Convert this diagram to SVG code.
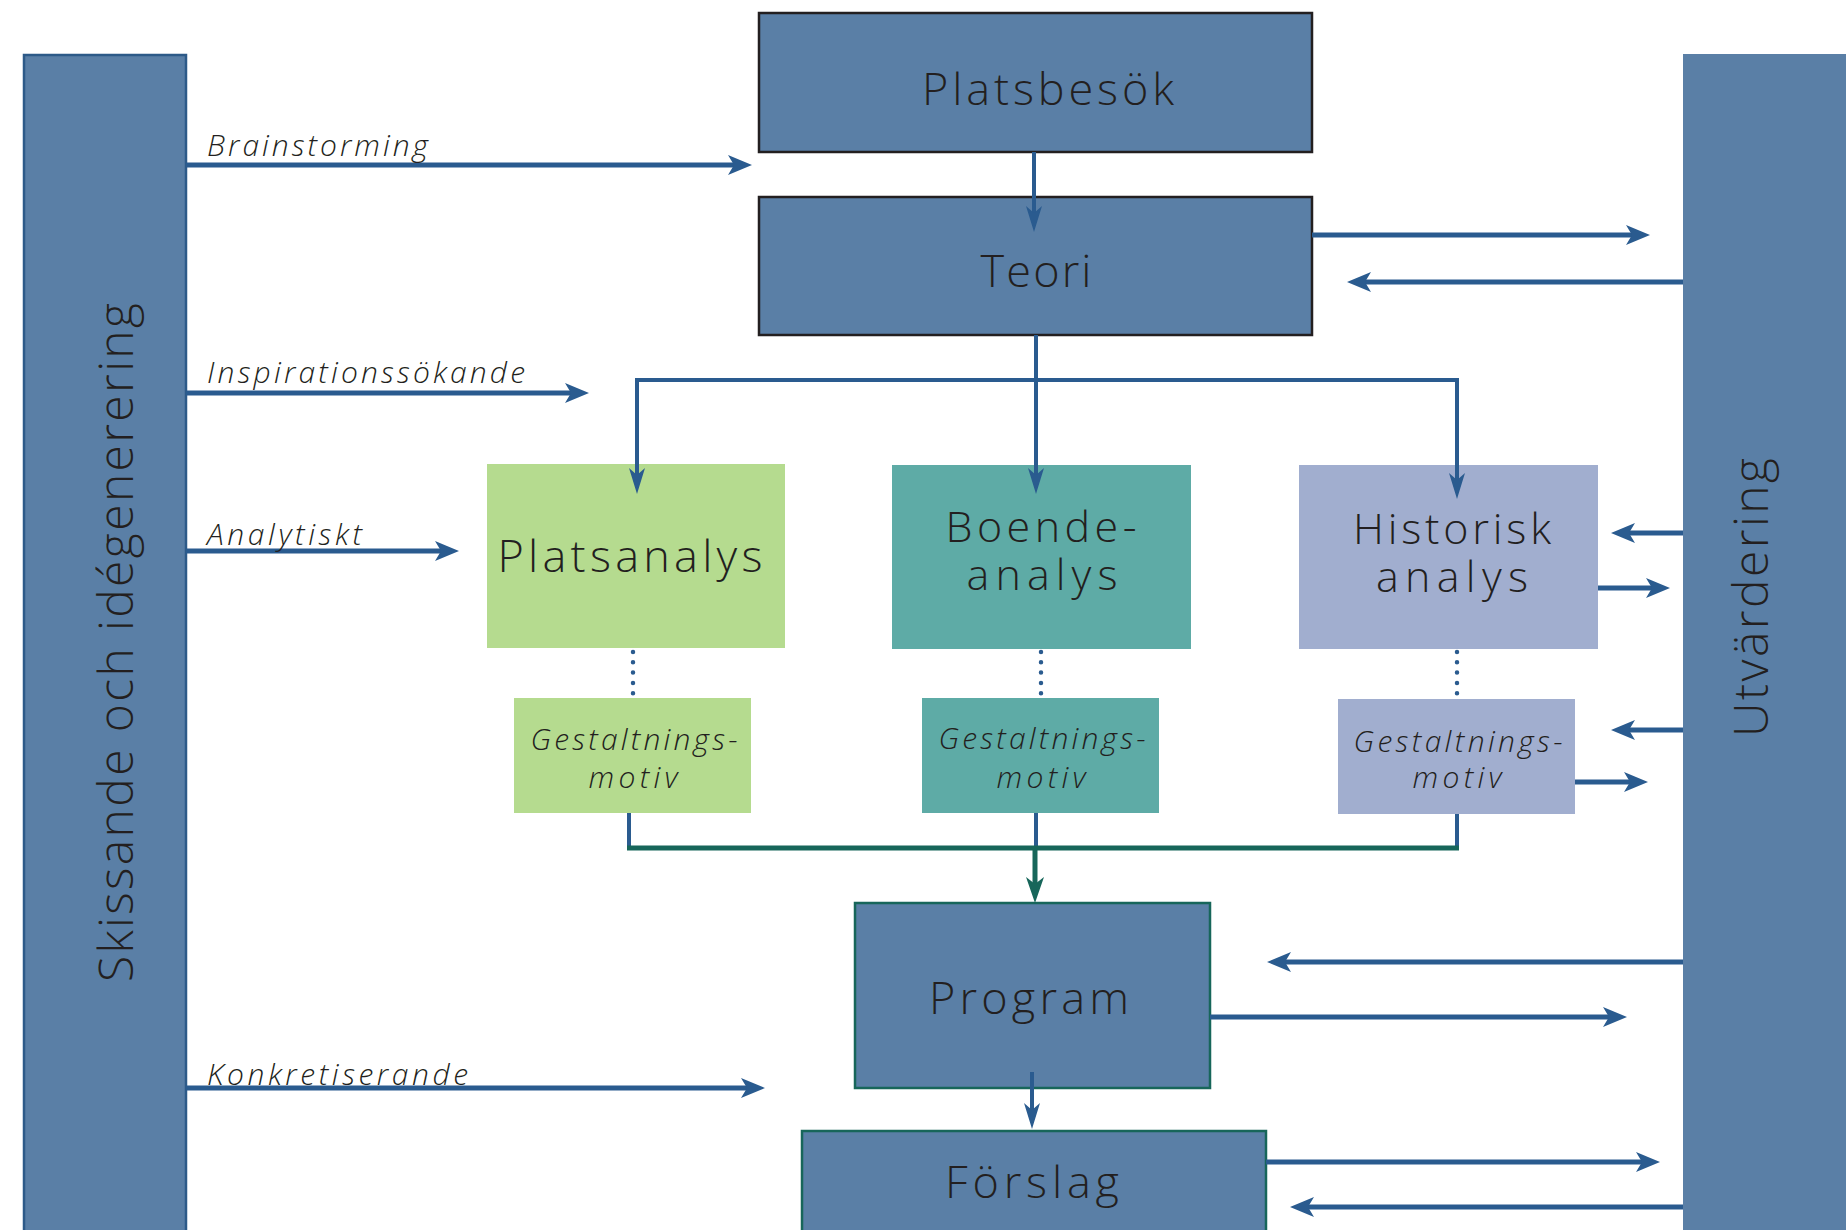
<svg xmlns="http://www.w3.org/2000/svg" width="1846" height="1230" viewBox="0 0 1846 1230">
<defs>
<style>
.bg{fill:#ffffff}
.blue{fill:#5a7fa6}
.dk{stroke:#231f20;stroke-width:2.5}
.gr{stroke:#17665a;stroke-width:2.5}
.lbar{stroke:#2d5a88;stroke-width:2.5}
.plats{fill:#b5db8f}
.boende{fill:#5eaba6}
.hist{fill:#a1aecf}
.t{font-family:"Open Sans","Liberation Sans",sans-serif;font-weight:300;fill:#231f20;text-anchor:middle}
.big{font-size:45px}
.two{font-size:43px}
.side{font-size:48px;text-anchor:start}
.it{font-family:"Open Sans","Liberation Sans",sans-serif;font-weight:300;font-style:italic;fill:#231f20;font-size:30px}
.lab{text-anchor:start}
.mid{text-anchor:middle}
.a{fill:none;stroke:#2a5b8f;stroke-width:5}
.thin{fill:none;stroke:#2a5b8f;stroke-width:4}
.g{fill:none;stroke:#17665a;stroke-width:5}
.dot{fill:none;stroke:#2a5b8f;stroke-width:4.5;stroke-linecap:round;stroke-dasharray:0 10.3}
</style>
<marker id="ah" markerUnits="userSpaceOnUse" markerWidth="26" markerHeight="24" viewBox="0 -12 26 24" refX="8" refY="0" orient="auto" overflow="visible"><path d="M0,-10 L24,0 L0,10 L6,0 z" fill="#2a5b8f"/></marker>
<marker id="ahd" markerUnits="userSpaceOnUse" markerWidth="28" markerHeight="18" viewBox="0 -9 28 18" refX="10" refY="0" orient="auto" overflow="visible"><path d="M0,-8 L26,0 L0,8 L7,0 z" fill="#2a5b8f"/></marker>
<marker id="ahg" markerUnits="userSpaceOnUse" markerWidth="28" markerHeight="18" viewBox="0 -9 28 18" refX="10" refY="0" orient="auto" overflow="visible"><path d="M0,-9 L26,0 L0,9 L7,0 z" fill="#17665a"/></marker>
</defs>
<rect class="bg" x="0" y="0" width="1846" height="1230"/>

<g id="skissande">
<rect class="blue lbar" x="24" y="55" width="162" height="1185"/>
<text class="t side" transform="translate(133,982) rotate(-90)" textLength="679" lengthAdjust="spacing">Skissande och idégenerering</text>
</g>
<g id="utvardering">
<rect class="blue" x="1683" y="54" width="170" height="1186"/>
<text class="t side" transform="translate(1768,737) rotate(-90)" textLength="279" lengthAdjust="spacing">Utvärdering</text>
</g>

<g id="platsbesok">
<rect class="blue dk" x="759" y="13" width="553" height="139"/>
<text class="t big" x="1048" y="105" textLength="252" lengthAdjust="spacing">Platsbesök</text>
</g>
<g id="teori">
<rect class="blue dk" x="759" y="197" width="553" height="138"/>
<text class="t big" x="1036" y="287" textLength="111" lengthAdjust="spacing">Teori</text>
</g>

<g id="platsanalys">
<rect class="plats" x="487" y="464" width="298" height="184"/>
<text class="t big" x="630" y="572" textLength="265" lengthAdjust="spacing">Platsanalys</text>
</g>
<g id="boendeanalys">
<rect class="boende" x="892" y="465" width="299" height="184"/>
<text class="t two" x="1041" y="542" textLength="191" lengthAdjust="spacing">Boende-</text>
<text class="t two" x="1042" y="590" textLength="151" lengthAdjust="spacing">analys</text>
</g>
<g id="historiskanalys">
<rect class="hist" x="1299" y="465" width="299" height="184"/>
<text class="t two" x="1452" y="544" textLength="198" lengthAdjust="spacing">Historisk</text>
<text class="t two" x="1452" y="592" textLength="152" lengthAdjust="spacing">analys</text>
</g>

<g id="gest-plats">
<rect class="plats" x="514" y="698" width="237" height="115"/>
<text class="it mid" x="634" y="750" textLength="207" lengthAdjust="spacing">Gestaltnings-</text>
<text class="it mid" x="633" y="788" textLength="89" lengthAdjust="spacing">motiv</text>
</g>
<g id="gest-boende">
<rect class="boende" x="922" y="698" width="237" height="115"/>
<text class="it mid" x="1042" y="749" textLength="207" lengthAdjust="spacing">Gestaltnings-</text>
<text class="it mid" x="1041" y="788" textLength="89" lengthAdjust="spacing">motiv</text>
</g>
<g id="gest-hist">
<rect class="hist" x="1338" y="699" width="237" height="115"/>
<text class="it mid" x="1458" y="752" textLength="209" lengthAdjust="spacing">Gestaltnings-</text>
<text class="it mid" x="1457" y="788" textLength="89" lengthAdjust="spacing">motiv</text>
</g>

<g id="program">
<rect class="blue gr" x="855" y="903" width="355" height="185"/>
<text class="t big" x="1029" y="1014" textLength="200" lengthAdjust="spacing">Program</text>
</g>
<g id="forslag">
<rect class="blue gr" x="802" y="1131" width="464" height="110"/>
<text class="t big" x="1032" y="1198" textLength="174" lengthAdjust="spacing">Förslag</text>
</g>

<g id="connectors">
<path class="a" d="M186,165 H736" marker-end="url(#ah)"/>
<path class="a" d="M186,393 H573" marker-end="url(#ah)"/>
<path class="a" d="M186,551 H443" marker-end="url(#ah)"/>
<path class="a" d="M186,1088 H749" marker-end="url(#ah)"/>
<text class="it lab" x="207" y="156" textLength="221" lengthAdjust="spacing">Brainstorming</text>
<text class="it lab" x="207" y="383" textLength="318" lengthAdjust="spacing">Inspirationssökande</text>
<text class="it lab" x="207" y="545" textLength="155" lengthAdjust="spacing">Analytiskt</text>
<text class="it lab" x="207" y="1085" textLength="261" lengthAdjust="spacing">Konkretiserande</text>

<path class="thin" d="M1034,152 V216" marker-end="url(#ahd)"/>
<path class="thin" d="M1036,335 V478" marker-end="url(#ahd)"/>
<path class="thin" d="M637,478 V380 H1457 V483" marker-end="url(#ahd)"/>
<path class="thin" d="M637,380 V478" marker-end="url(#ahd)"/>

<path class="dot" d="M633,652 V694"/>
<path class="dot" d="M1041,652 V694"/>
<path class="dot" d="M1457,652 V694"/>

<path class="thin" d="M629,813 V848"/>
<path class="thin" d="M1036,813 V848"/>
<path class="thin" d="M1457,814 V848"/>
<path class="g" d="M627,848 H1459"/>
<path class="g" d="M1035,848 V887" marker-end="url(#ahg)"/>
<path class="thin" d="M1032,1072 V1113" marker-end="url(#ahd)"/>

<path class="a" d="M1312,235 H1634" marker-end="url(#ah)"/>
<path class="a" d="M1683,282 H1363" marker-end="url(#ah)"/>
<path class="a" d="M1683,533 H1627" marker-end="url(#ah)"/>
<path class="a" d="M1598,588 H1654" marker-end="url(#ah)"/>
<path class="a" d="M1683,730 H1627" marker-end="url(#ah)"/>
<path class="a" d="M1575,782 H1632" marker-end="url(#ah)"/>
<path class="a" d="M1683,962 H1283" marker-end="url(#ah)"/>
<path class="a" d="M1210,1017 H1611" marker-end="url(#ah)"/>
<path class="a" d="M1266,1162 H1644" marker-end="url(#ah)"/>
<path class="a" d="M1683,1207 H1306" marker-end="url(#ah)"/>
</g>
</svg>
